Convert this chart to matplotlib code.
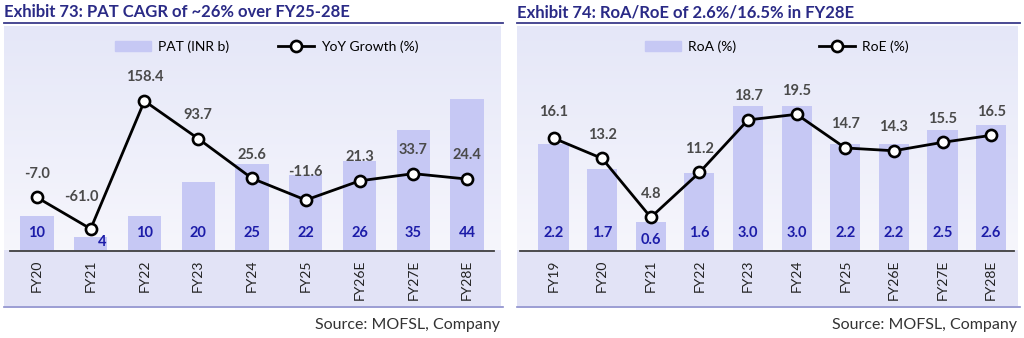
import matplotlib
matplotlib.use("Agg")
import matplotlib.pyplot as plt
import numpy as np
from matplotlib.lines import Line2D
from matplotlib.patches import Patch, Rectangle
import matplotlib.transforms as mtransforms

plt.rcParams['font.family'] = ['Lato', 'DejaVu Sans']

# Exhibit 73
years_l = ['FY20', 'FY21', 'FY22', 'FY23', 'FY24', 'FY25', 'FY26E', 'FY27E', 'FY28E']
pat = [10, 4, 10, 20, 25, 22, 26, 35, 44]
yoy = [-7.0, -61.0, 158.4, 93.7, 25.6, -11.6, 21.3, 33.7, 24.4]

# Exhibit 74
years_r = ['FY19', 'FY20', 'FY21', 'FY22', 'FY23', 'FY24', 'FY25', 'FY26E', 'FY27E', 'FY28E']
roa = [2.2, 1.7, 0.6, 1.6, 3.0, 3.0, 2.2, 2.2, 2.5, 2.6]
roe = [16.1, 13.2, 4.8, 11.2, 18.7, 19.5, 14.7, 14.3, 15.5, 16.5]

W, H = 1024, 338
BAR = '#c6c8f4'
NAVY = '#2a2a86'
BLUE = '#1c1ca8'
GREY = '#4a4a4a'

fig = plt.figure(figsize=(W / 100, H / 100), dpi=100)


def px_rect(x0, y0, x1, y1):
    # pixel box (top-left origin) -> figure fraction rect
    return [x0 / W, 1 - y1 / H, (x1 - x0) / W, (y1 - y0) / H]


def panel(x0, x1, ax_x0, ax_x1, title):
    # gradient background + tick band
    bg = fig.add_axes(px_rect(x0, 26, x1, 306), zorder=0)
    top = np.array([0.898, 0.906, 0.973])
    bot = np.array([0.965, 0.965, 0.988])
    t = np.linspace(0, 1, 200)[:, None]
    grad = top * (1 - t) + bot * t
    bg.imshow(grad[:, None, :], aspect='auto', extent=(0, 1, 0.2, 1))
    bg.add_patch(Rectangle((0, 0), 1, 0.2, color='#e2e3f6', lw=0))
    bg.set_xlim(0, 1)
    bg.set_ylim(0, 1)
    bg.axis('off')
    fig.add_artist(Line2D([x0 / W, (x1 + 2) / W], [1 - 306.5 / H] * 2, color='#8a8ccc', lw=1.2))
    fig.add_artist(Line2D([x0 / W, (x1 + 2) / W], [1 - 23 / H] * 2, color='#3a3a8a', lw=1.3))
    fig.text(x0 / W, 1 - 12 / H, title, fontsize=12, fontweight='bold', color=NAVY, va='center', ha='left')
    fig.text((x1 - 1) / W, 1 - 325 / H, 'Source: MOFSL, Company', fontsize=11.5, color='#333333',
             va='center', ha='right')
    ax = fig.add_axes(px_rect(ax_x0, 26, ax_x1, 251), zorder=2)
    ax.patch.set_alpha(0)
    for s in ['top', 'right', 'left']:
        ax.spines[s].set_visible(False)
    ax.spines['bottom'].set_color('#404040')
    ax.spines['bottom'].set_linewidth(1.3)
    ax.set_yticks([])
    return ax


def draw(ax, cats, bars, line, ylim_bar, ylim_line, xlim, bar_lbl_fmt, line_lbl_fmt,
         leg_labels, leg_x, colsp, special_bar=None, special_line=None):
    x = np.arange(len(cats))
    ax.bar(x, bars, width=0.62, color=BAR, zorder=1)
    ax.set_ylim(*ylim_bar)
    ax.set_xlim(*xlim)
    ax.set_xticks(x)
    ax.set_xticklabels(cats, rotation=90, fontsize=10, color='#222222')
    ax.tick_params(axis='x', length=0, pad=6)
    trans = mtransforms.blended_transform_factory(ax.transData, ax.transAxes)
    for i, v in enumerate(bars):
        dx, yy = 0, 0.08
        if special_bar and i in special_bar:
            dx, yy = special_bar[i]
        ax.text(i + dx, yy, bar_lbl_fmt.format(v), transform=trans, ha='center', va='center',
                fontsize=10.5, fontweight='bold', color=BLUE, zorder=5)
    ax2 = ax.twinx()
    ax2.patch.set_alpha(0)
    for s in ax2.spines.values():
        s.set_visible(False)
    ax2.set_yticks([])
    ax2.plot(x, line, color='black', lw=2, marker='o', ms=8, mfc='white', mec='black', mew=1.9, zorder=4)
    ax2.set_ylim(*ylim_line)
    for i, v in enumerate(line):
        off = (0, 17)
        if special_line and i in special_line:
            off = special_line[i]
        ax2.annotate(line_lbl_fmt.format(v), (i, v), xytext=off, textcoords='offset points',
                     ha='center', va='center', fontsize=10.5, fontweight='bold', color=GREY)
    handles = [Patch(color=BAR),
               Line2D([0], [0], color='black', lw=2, marker='o', ms=8, mfc='white', mec='black', mew=1.9)]
    ax2.legend(handles, leg_labels, loc='center', bbox_to_anchor=(leg_x, 0.907), ncol=2, frameon=False,
               fontsize=10, handlelength=2.6, columnspacing=colsp, handletextpad=0.5)


axl = panel(4, 501, 10, 494, 'Exhibit 73: PAT CAGR of ~26% over FY25-28E')
draw(axl, years_l, pat, yoy, (0, 65), (-99, 287), (-0.5, 8.5), '{:d}', '{:.1f}',
     ['PAT (INR b)', 'YoY Growth (%)'], 0.53, 3.5,
     special_bar={1: (0.22, 0.04)}, special_line={1: (-7, 23), 5: (0, 20)})

axr = panel(517, 1018, 520, 1014, 'Exhibit 74: RoA/RoE of 2.6%/16.5% in FY28E')
draw(axr, years_r, roa, roe, (0, 4.64), (0, 32.1), (-0.69, 9.47), '{:.1f}', '{:.1f}',
     ['RoA (%)', 'RoE (%)'], 0.52, 6.0,
     special_bar={2: (0, 0.05)}, special_line={0: (0, 19)})

fig.savefig('out.png', dpi=100)
